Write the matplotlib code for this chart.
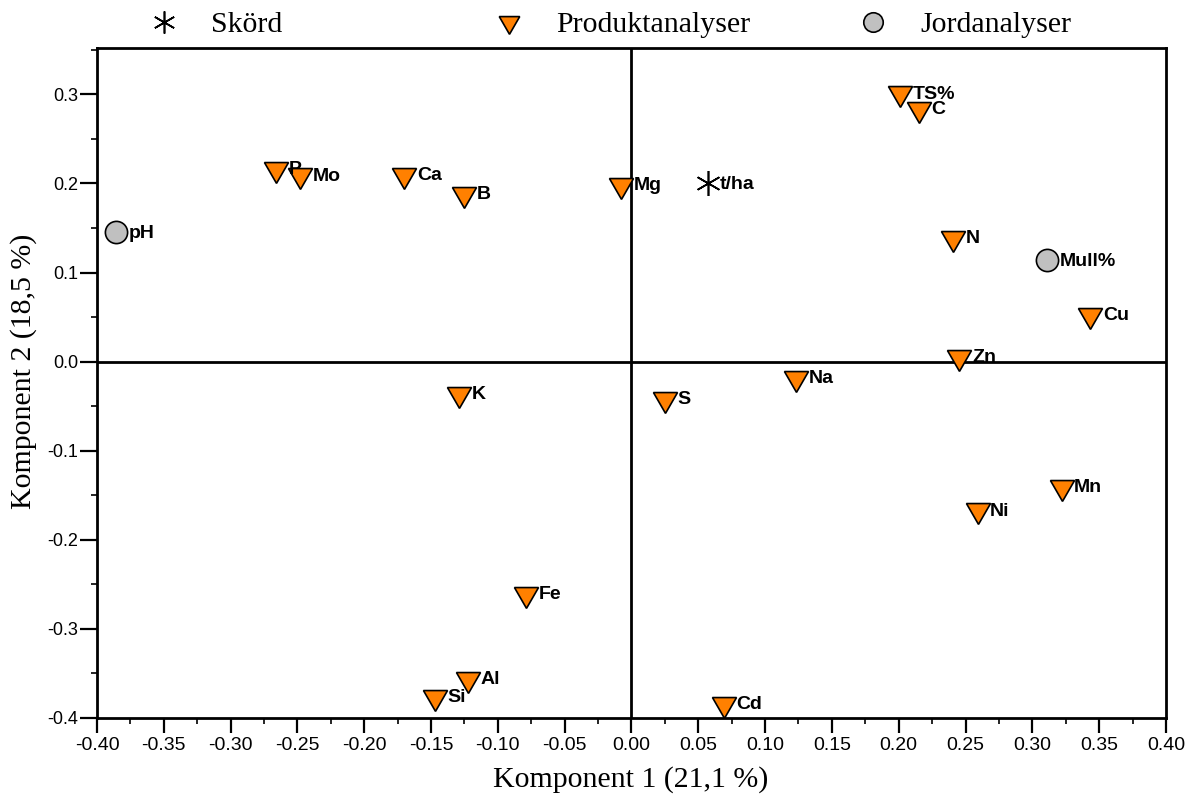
import matplotlib
matplotlib.use("Agg")
import matplotlib.pyplot as plt
from matplotlib.ticker import MultipleLocator, FormatStrFormatter
from matplotlib.lines import Line2D

# Laddningar, komponent 1 och 2
skord_namn = ["t/ha"]
skord_x = [0.057]
skord_y = [0.200]

prod_namn = ["P", "Mo", "Ca", "B", "Mg", "TS%", "C", "N", "Cu", "Zn",
             "Na", "S", "K", "Mn", "Ni", "Fe", "Al", "Si", "Cd"]
prod_x = [-0.266, -0.248, -0.170, -0.125, -0.008, 0.201, 0.215, 0.241, 0.3435, 0.2455,
          0.123, 0.025, -0.129, 0.322, 0.259, -0.079, -0.122, -0.147, 0.069]
prod_y = [0.216, 0.209, 0.210, 0.188, 0.198, 0.301, 0.284, 0.139, 0.052, 0.005,
          -0.0185, -0.042, -0.036, -0.141, -0.167, -0.261, -0.356, -0.376, -0.384]

jord_namn = ["pH", "Mull%"]
jord_x = [-0.3855, 0.311]
jord_y = [0.145, 0.1135]

orange = "#FF8000"
gra = "#C0C0C0"
sans = "Liberation Sans"
serif = "Liberation Serif"

asterisk = (6, 2, 0)
triangel = (3, 0, 180)   # liksidig triangel med spetsen nedåt

fig = plt.figure(figsize=(11.94, 8), dpi=100)
ax = fig.add_axes([0.0812, 0.1025, 0.8953, 0.8375])

ax.axhline(0, color="black", lw=2, zorder=1)
ax.axvline(0, color="black", lw=2, zorder=1)

ax.plot(skord_x, skord_y, ls="none", marker=asterisk, ms=18, mew=1.2,
        color="black", zorder=3)
ax.plot(prod_x, prod_y, ls="none", marker=triangel, ms=20, mfc=orange, mec="black",
        mew=1.2, zorder=3)
ax.plot(jord_x, jord_y, ls="none", marker="o", ms=16, mfc=gra, mec="black",
        mew=1.2, zorder=3)

for namn, xs, ys in [(skord_namn, skord_x, skord_y),
                     (prod_namn, prod_x, prod_y),
                     (jord_namn, jord_x, jord_y)]:
    for n, x, y in zip(namn, xs, ys):
        ax.annotate(n, (x, y), xytext=(9, -0.5), textcoords="offset points",
                    ha="left", va="center", fontsize=14, fontweight="bold",
                    family=sans, zorder=4)

ax.set_xlim(-0.40, 0.40)
ax.set_ylim(-0.40, 0.352)
ax.xaxis.set_major_locator(MultipleLocator(0.05))
ax.xaxis.set_minor_locator(MultipleLocator(0.025))
ax.yaxis.set_major_locator(MultipleLocator(0.1))
ax.yaxis.set_minor_locator(MultipleLocator(0.05))
ax.xaxis.set_major_formatter(FormatStrFormatter("%.2f"))
ax.yaxis.set_major_formatter(FormatStrFormatter("%.1f"))
ax.tick_params(axis="x", which="major", direction="out", length=10.5, width=1.6,
               labelsize=14, pad=3)
ax.tick_params(axis="y", which="major", direction="out", length=12, width=1.6,
               labelsize=13, pad=1.5)
ax.tick_params(which="minor", direction="out", length=4, width=1.2)
for lab in ax.get_xticklabels() + ax.get_yticklabels():
    lab.set_family(sans)
for s in ax.spines.values():
    s.set_linewidth(2)

ax.set_xlabel("Komponent 1 (21,1 %)", family=serif, fontsize=21.5)
ax.set_ylabel("Komponent 2 (18,5 %)", family=serif, fontsize=21.5)
ax.xaxis.set_label_coords(0.4995, -0.0716)
ax.yaxis.set_label_coords(-0.056, 0.517)

# teckenförklaring ovanför diagrammet
poster = [
    (Line2D([], [], ls="none", marker=asterisk, ms=16, mew=1.2, color="black"), "Skörd", 0.112),
    (Line2D([], [], ls="none", marker=triangel, ms=17, mfc=orange, mec="black", mew=1.2), "Produktanalyser", 0.401),
    (Line2D([], [], ls="none", marker="o", ms=14, mfc=gra, mec="black", mew=1.2), "Jordanalyser", 0.706),
]
for h, txt, xpos in poster:
    fig.legend([h], [txt], loc="center left", bbox_to_anchor=(xpos, 0.969),
               frameon=False, prop={"family": serif, "size": 21.5},
               handletextpad=0.6, borderpad=0, borderaxespad=0)

fig.savefig("out.png", dpi=100)
